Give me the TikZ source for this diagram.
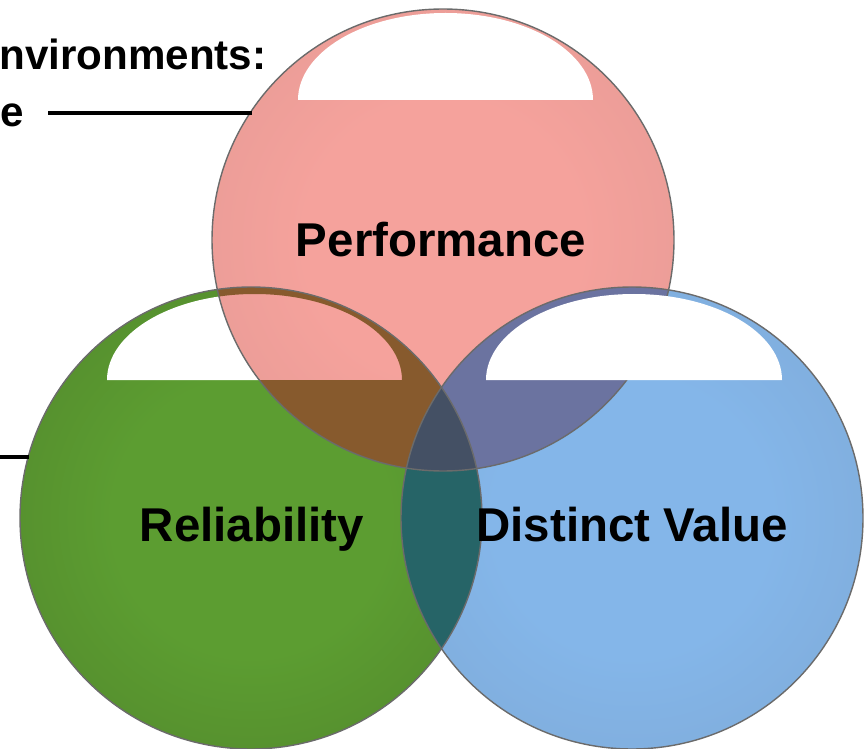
\documentclass[tikz,border=0pt]{standalone}
\usepackage{fontspec}
\setmainfont{Liberation Sans}
\definecolor{perfIn}{HTML}{F5A29C}
\definecolor{perfOut}{HTML}{D8938F}
\definecolor{relIn}{HTML}{5C9D31}
\definecolor{relOut}{HTML}{4A7628}
\definecolor{distIn}{HTML}{84B6E9}
\definecolor{distOut}{HTML}{7A9FC8}
\definecolor{brownMix}{HTML}{875A2D}
\definecolor{purpleMix}{HTML}{6B73A0}
\definecolor{tealMix}{HTML}{266467}
\definecolor{tripleMix}{HTML}{445064}
\definecolor{rimGray}{HTML}{6B6B6B}
\pgfdeclareradialshading{perfglow}{\pgfpoint{0bp}{0bp}}{color(0bp)=(perfIn); color(15bp)=(perfIn); color(50bp)=(perfOut)}
\pgfdeclareradialshading{relglow}{\pgfpoint{0bp}{0bp}}{color(0bp)=(relIn); color(15bp)=(relIn); color(50bp)=(relOut)}
\pgfdeclareradialshading{distglow}{\pgfpoint{0bp}{0bp}}{color(0bp)=(distIn); color(15bp)=(distIn); color(50bp)=(distOut)}
\tikzset{
  vennset/.style={circle, minimum size=9.24cm, inner sep=0pt, outer sep=0pt},
  rim/.style={draw=rimGray, line width=0.8pt},
  lbl/.style={font=\bfseries\fontsize{27}{30}\selectfont, inner sep=0pt, anchor=base},
  side/.style={font=\bfseries\fontsize{24}{28}\selectfont, inner sep=0pt, anchor=base west},
  leader/.style={line width=1.8pt}
}
\begin{document}
\begin{tikzpicture}[x=0.02cm, y=0.02cm]
\useasboundingbox (0,0) rectangle (865,748);
\clip (0,0) rectangle (865,748);
% circles and their shine
\node[vennset, shading=relglow] (rel) at (251,230) {};
\fill[white] (107,368) arc[start angle=180, end angle=0, x radius=147.5, y radius=86] -- cycle;
\node[vennset, shading=perfglow] (perf) at (443,508) {};
\fill[white] (298,648) arc[start angle=180, end angle=0, x radius=147.5, y radius=87] -- cycle;
\node[vennset, shading=distglow] (dist) at (632,230) {};
% overlaps
\begin{scope}
\clip (rel.center) circle[radius=231];
\fill[tealMix] (dist.center) circle[radius=231];
\end{scope}
\begin{scope}
\clip (perf.center) circle[radius=231];
\fill[brownMix, even odd rule] (rel.center) circle[radius=231]
  (107,368) arc[start angle=180, end angle=0, x radius=147.5, y radius=86] -- cycle;
\fill[purpleMix] (dist.center) circle[radius=231];
\clip (rel.center) circle[radius=231];
\fill[tripleMix] (dist.center) circle[radius=231];
\end{scope}
\draw[rim] (rel.center) circle[radius=231];
\draw[rim] (perf.center) circle[radius=231];
\draw[rim] (dist.center) circle[radius=231];
\fill[white] (486,368) arc[start angle=180, end angle=0, x radius=148, y radius=86] -- cycle;
% labels
\node[lbl] (perfTxt) at (441,491) {Performance};
\node[lbl] (relTxt) at (252,207) {Reliability};
\node[lbl] (distTxt) at (632,207) {Distinct Value};
% left side
\node[side] (envTxt) at (-1,678) {nvironments:};
\node[side] (eTxt) at (0,621) {e};
\coordinate (leadA) at (48,635);
\coordinate (leadB) at (-2,291);
\draw[leader] (leadA) -- (leadA -| perf.146.7);
\draw[leader] (leadB) -- (leadB -| rel.164.7);
\end{tikzpicture}
\end{document}
